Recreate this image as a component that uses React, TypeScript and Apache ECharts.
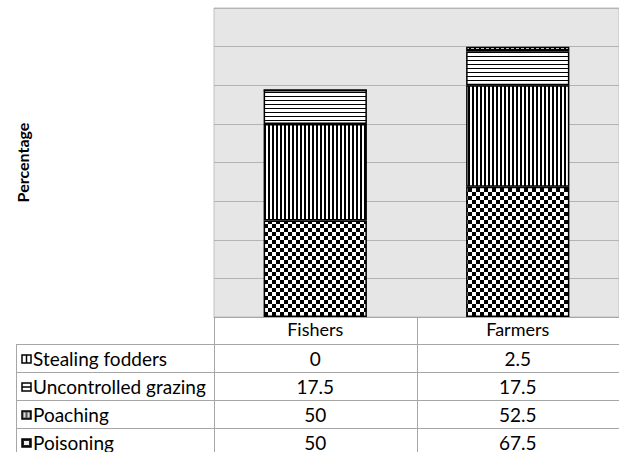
import React, { useEffect, useRef } from "react";
import * as echarts from "echarts";

// ---- data ----
const categories = ["Fishers", "Farmers"];
const poisoning = [50, 67.5];
const poaching = [50, 52.5];
const uncontrolledGrazing = [17.5, 17.5];
const stealingFodders = [0, 2.5];
const seriesNames = ["Poisoning", "Poaching", "Uncontrolled grazing", "Stealing fodders"];
const yMin = 0;
const yMax = 160;
const yInterval = 20;
const yAxisTitle = "Percentage";

// ---- layout ----
const W = 619;
const H = 452;
const GRID_LEFT = 214;
const GRID_TOP = 8;
const PLOT_BOTTOM = 317;
const TABLE_LEFT = 16;
const ROW_TOP = 344;
const ROW_H = 28;
const FONT = "Lato, 'Liberation Sans', sans-serif";
const LINE = "#a6a6a6";

function makePattern(kind: string): HTMLCanvasElement {
  const c = document.createElement("canvas");
  let w = 4, h = 4;
  if (kind === "checker") { w = 8; h = 8; }
  if (kind === "grid") { w = 5; h = 5; }
  c.width = w; c.height = h;
  const g = c.getContext("2d")!;
  g.fillStyle = "#ffffff";
  g.fillRect(0, 0, w, h);
  g.fillStyle = "#000000";
  if (kind === "checker") {
    g.fillRect(0, 0, 4, 4);
    g.fillRect(4, 4, 4, 4);
  } else if (kind === "vertical") {
    g.fillRect(0, 0, 2, 4);
  } else if (kind === "horizontal") {
    g.fillRect(0, 0, 4, 1);
  } else if (kind === "grid") {
    g.fillRect(0, 0, 5, 5);
    g.fillStyle = "#ffffff";
    g.fillRect(1, 1, 3, 3);
  }
  return c;
}

function keyIcon(idx: number, x: number, cy: number): any[] {
  const y = cy - 4;
  const w = 9, h = 8;
  const els: any[] = [];
  if (idx === 3) {
    els.push({ type: "rect", shape: { x, y, width: w, height: h }, style: { fill: "#fff", stroke: "#000", lineWidth: 1.5 } });
    els.push({ type: "line", shape: { x1: x + 4.5, y1: y, x2: x + 4.5, y2: y + h }, style: { stroke: "#000", lineWidth: 1.5 } });
  } else if (idx === 2) {
    els.push({ type: "rect", shape: { x, y, width: w, height: h }, style: { fill: "#fff", stroke: "#000", lineWidth: 1.5 } });
    els.push({ type: "line", shape: { x1: x, y1: y + 4, x2: x + w, y2: y + 4 }, style: { stroke: "#000", lineWidth: 1.5 } });
  } else if (idx === 1) {
    els.push({ type: "rect", shape: { x, y, width: w, height: h }, style: { fill: "#555", stroke: "#000", lineWidth: 1.5 } });
    els.push({ type: "rect", shape: { x: x + 1.5, y: y + 1.5, width: 2, height: h - 3 }, style: { fill: "#ddd" } });
    els.push({ type: "rect", shape: { x: x + 5.5, y: y + 1.5, width: 2, height: h - 3 }, style: { fill: "#ddd" } });
  } else {
    els.push({ type: "rect", shape: { x, y, width: w, height: h }, style: { fill: "#222", stroke: "#000", lineWidth: 1.5 } });
    els.push({ type: "rect", shape: { x: x + 2, y: y + 2, width: 5, height: 4 }, style: { fill: "#eee" } });
  }
  return els;
}

export default function App() {
  const ref = useRef<HTMLDivElement>(null);
  useEffect(() => {
    if (!ref.current) return;
    const chart = echarts.init(ref.current, null, { renderer: "svg", width: W, height: H });
    const patterns = [makePattern("checker"), makePattern("vertical"), makePattern("horizontal"), makePattern("grid")];
    const values = [poisoning, poaching, uncontrolledGrazing, stealingFodders];
    const plotW = W - GRID_LEFT;
    const colCenters = categories.map((_, i) => GRID_LEFT + plotW * (i + 0.5) / categories.length);
    const colDivs = categories.map((_, i) => GRID_LEFT + plotW * i / categories.length).slice(1);

    const graphics: any[] = [];
    graphics.push({
      type: "text", x: 22, y: (GRID_TOP + PLOT_BOTTOM) / 2, rotation: Math.PI / 2,
      style: { text: yAxisTitle, font: `bold 16px ${FONT}`, fill: "#000", align: "center", verticalAlign: "middle" },
    });
    const order = [3, 2, 1, 0];
    order.forEach((si, r) => {
      const top = ROW_TOP + r * ROW_H;
      const cy = top + ROW_H / 2;
      graphics.push({ type: "line", shape: { x1: TABLE_LEFT, y1: top + 0.5, x2: W, y2: top + 0.5 }, style: { stroke: LINE, lineWidth: 1 } });
      keyIcon(si, 22, cy + 1).forEach((e) => graphics.push(e));
      graphics.push({ type: "text", x: 33, y: cy, style: { text: seriesNames[si], font: `19px ${FONT}`, fill: "#000", align: "left", verticalAlign: "middle" } });
      values[si].forEach((v, ci) => {
        graphics.push({ type: "text", x: colCenters[ci], y: cy, style: { text: String(v), font: `19px ${FONT}`, fill: "#000", align: "center", verticalAlign: "middle" } });
      });
    });
    graphics.push({ type: "line", shape: { x1: TABLE_LEFT + 0.5, y1: ROW_TOP, x2: TABLE_LEFT + 0.5, y2: H }, style: { stroke: LINE, lineWidth: 1 } });
    graphics.push({ type: "line", shape: { x1: GRID_LEFT + 0.5, y1: PLOT_BOTTOM, x2: GRID_LEFT + 0.5, y2: H }, style: { stroke: LINE, lineWidth: 1 } });
    colDivs.forEach((x) => {
      graphics.push({ type: "line", shape: { x1: Math.round(x) + 0.5, y1: PLOT_BOTTOM, x2: Math.round(x) + 0.5, y2: H }, style: { stroke: LINE, lineWidth: 1 } });
    });

    chart.setOption({
      animation: false,
      grid: {
        left: GRID_LEFT, top: GRID_TOP, right: 0, bottom: H - PLOT_BOTTOM,
        show: true, backgroundColor: "#e6e6e6", borderColor: "#c0c0c0", borderWidth: 1,
      },
      xAxis: {
        type: "category", data: categories,
        axisLine: { show: true, lineStyle: { color: LINE, width: 1 } },
        axisTick: { show: false },
        axisLabel: { fontSize: 18, fontFamily: FONT, color: "#000", margin: 3 },
      },
      yAxis: {
        type: "value", min: yMin, max: yMax, interval: yInterval,
        axisLabel: { show: false },
        axisLine: { show: false },
        axisTick: { show: false },
        splitLine: { show: true, lineStyle: { color: "#b3b3b3", width: 1 } },
      },
      series: seriesNames.map((name, i) => ({
        name, type: "bar", stack: "total", data: values[i], barWidth: "51%",
        itemStyle: { color: { image: patterns[i], repeat: "repeat" }, borderColor: "#000", borderWidth: 1.5 },
        emphasis: { disabled: true },
      })),
      graphic: graphics,
    });
    return () => chart.dispose();
  }, []);
  return <div ref={ref} style={{ position: "absolute", left: 0, top: 0, width: W, height: H, background: "#fff" }} />;
}
